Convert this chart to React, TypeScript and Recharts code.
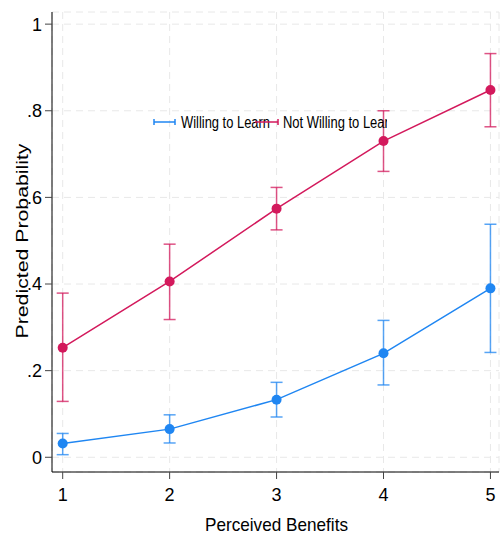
import React from 'react';
import {
  LineChart,
  Line,
  XAxis,
  YAxis,
  CartesianGrid,
  ErrorBar,
  Legend
} from 'recharts';

const benefits = [1, 2, 3, 4, 5];
const willing = [0.032, 0.065, 0.133, 0.24, 0.39];
const willingLo = [0.006, 0.033, 0.093, 0.167, 0.242];
const willingHi = [0.055, 0.098, 0.173, 0.316, 0.538];
const notWilling = [0.253, 0.406, 0.574, 0.73, 0.848];
const notWillingLo = [0.129, 0.318, 0.525, 0.66, 0.763];
const notWillingHi = [0.379, 0.492, 0.623, 0.8, 0.932];
const yTicks = [0, 0.2, 0.4, 0.6, 0.8, 1];

const BLUE = '#1f86f2';
const RED = '#d3195c';
const FONT = '"Liberation Sans", Arial, sans-serif';

// ErrorBar wants [minus, plus] offsets from the point
const chartData = benefits.map((b, i) => ({
  x: b,
  willing: willing[i],
  willingErr: [willing[i] - willingLo[i], willingHi[i] - willing[i]],
  notWilling: notWilling[i],
  notWillingErr: [notWilling[i] - notWillingLo[i], notWillingHi[i] - notWilling[i]]
}));

const fmtY = (v: number) => (v === 0 ? '0' : v === 1 ? '1' : String(v).replace(/^0/, ''));

const YLabel = (props: any) => {
  const vb = props.viewBox || {};
  const cy = vb.y + vb.height / 2 - 1;
  const x = 28;
  return (
    <text
      x={x}
      y={cy}
      transform={`rotate(-90 ${x} ${cy})`}
      textAnchor="middle"
      fontSize={16}
      fontFamily={FONT}
      fill="#000"
      textLength={195}
      lengthAdjust="spacingAndGlyphs"
    >
      Predicted Probability
    </text>
  );
};

const XLabel = (props: any) => {
  const vb = props.viewBox || {};
  const cx = vb.x + vb.width / 2 + 1;
  return (
    <text
      x={cx}
      y={531}
      textAnchor="middle"
      fontSize={19}
      fontFamily={FONT}
      fill="#000"
      textLength={143}
      lengthAdjust="spacingAndGlyphs"
    >
      Perceived Benefits
    </text>
  );
};

const LegendBox = () => (
  <svg width={237} height={22} style={{ display: 'block', overflow: 'hidden' }}>
    <line x1={4} y1={10} x2={25} y2={10} stroke={BLUE} strokeWidth={1.5} />
    <line x1={4} y1={7} x2={4} y2={13} stroke={BLUE} strokeWidth={1.5} />
    <line x1={25} y1={7} x2={25} y2={13} stroke={BLUE} strokeWidth={1.5} />
    <text x={31} y={16} fontSize={16} fontFamily={FONT} fill="#000" textLength={89} lengthAdjust="spacingAndGlyphs">
      Willing to Learn
    </text>
    <line x1={105} y1={10} x2={128} y2={10} stroke={RED} strokeWidth={1.5} />
    <line x1={128} y1={7} x2={128} y2={13} stroke={RED} strokeWidth={1.5} />
    <text x={133} y={16} fontSize={16} fontFamily={FONT} fill="#000" textLength={113} lengthAdjust="spacingAndGlyphs">
      Not Willing to Learn
    </text>
  </svg>
);

export default function App() {
  return (
    <div style={{ position: 'absolute', left: 0, top: 0, background: '#fff' }}>
      <LineChart
        width={500}
        height={535}
        data={chartData}
        margin={{ top: 12, right: 1, left: 0, bottom: 0 }}
      >
        <CartesianGrid stroke="#e8e8e8" strokeDasharray="7 5" />
        <XAxis
          dataKey="x"
          type="number"
          domain={[0.9, 5.08]}
          ticks={benefits}
          height={63}
          tickSize={7}
          tickMargin={9}
          axisLine={{ stroke: '#000' }}
          tickLine={{ stroke: '#444' }}
          tick={{ fill: '#000', fontSize: 18, fontFamily: FONT }}
          label={<XLabel />}
        />
        <YAxis
          type="number"
          domain={[-0.034, 1.028]}
          ticks={yTicks}
          width={52}
          tickSize={7}
          tickMargin={3}
          tickFormatter={fmtY}
          axisLine={{ stroke: '#000' }}
          tickLine={{ stroke: '#444' }}
          tick={{ fill: '#000', fontSize: 18, fontFamily: FONT }}
          label={<YLabel />}
        />
        <Legend
          layout="vertical"
          align="center"
          verticalAlign="middle"
          wrapperStyle={{ left: 150, top: 112, width: 237 }}
          content={() => <LegendBox />}
        />
        <Line
          dataKey="willing"
          stroke={BLUE}
          strokeWidth={1.5}
          dot={{ r: 5, fill: BLUE, stroke: 'none' }}
          isAnimationActive={false}
        >
          <ErrorBar dataKey="willingErr" direction="y" width={6} stroke={BLUE} strokeOpacity={0.75} strokeWidth={1.5} />
        </Line>
        <Line
          dataKey="notWilling"
          stroke={RED}
          strokeWidth={1.5}
          dot={{ r: 5, fill: RED, stroke: 'none' }}
          isAnimationActive={false}
        >
          <ErrorBar dataKey="notWillingErr" direction="y" width={6} stroke={RED} strokeOpacity={0.75} strokeWidth={1.5} />
        </Line>
      </LineChart>
    </div>
  );
}
